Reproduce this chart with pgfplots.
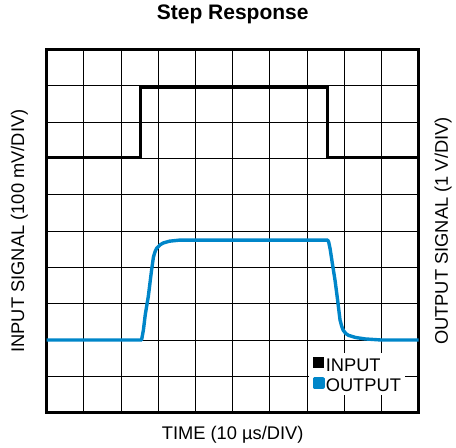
\documentclass[border=0pt]{standalone}
\usepackage{pgfplots}
\pgfplotsset{compat=1.18}
\usepackage{fontspec}
\setmainfont{Liberation Sans}
\definecolor{outblue}{RGB}{0,134,201}
\begin{document}
\begin{tikzpicture}
\begin{axis}[
  name=ax,
  scale only axis,
  width=372pt, height=363.4pt,
  xmin=0, xmax=10, ymin=0, ymax=10,
  xtick={0,...,10}, ytick={0,...,10},
  xticklabel=\empty, yticklabel=\empty,
  major tick length=0pt,
  grid=major,
  grid style={black, line width=0.9pt},
  axis line style={line width=3pt},
  clip=false,
  title={Step Response},
  title style={at={(axis description cs:0.5,1)}, anchor=base, yshift=23.3pt, font=\fontsize{21}{24}\selectfont\bfseries},
  xlabel={TIME (10 µs/DIV)},
  xlabel style={at={(axis description cs:0.5,0)}, anchor=base, yshift=-26.3pt, font=\fontsize{18.3}{21}\selectfont},
  ylabel={INPUT SIGNAL (100 mV/DIV)},
  ylabel style={at={(axis description cs:-0.061,0.5)}, anchor=base, font=\fontsize{18.3}{21}\selectfont},
  legend style={at={(axis cs:7.05,1.643)}, anchor=north west, fill=white, draw=none,
    inner xsep=3.7pt, inner ysep=3.6pt, row sep=5.6pt, column sep=1.2pt,
    font=\fontsize{18.3}{19}\selectfont,
    nodes={inner sep=0pt, text height=13.4pt, text depth=0pt}},
  legend cell align=left,
  legend image code/.code={\fill[#1] (0pt,-2pt) rectangle (8.3pt,6.3pt);},
]
\addplot[black, line width=3.2pt, line join=miter] coordinates {
(0,7.02) (2.53,7.02) (2.53,8.95) (7.54,8.95) (7.54,7.02) (10,7.02)
};
\addlegendentry{INPUT}
\addplot[outblue, line width=3.4pt, line join=round] coordinates {
(0,2.0) (2.55,2.0) (2.60,2.28) (2.65,2.7) (2.73,3.19) (2.82,3.93) (2.87,4.29)
(2.92,4.45) (2.96,4.53) (3.05,4.62) (3.13,4.67) (3.3,4.72) (3.58,4.75)
(7.55,4.75) (7.58,4.70) (7.62,4.50) (7.68,4.1) (7.75,3.65) (7.82,3.1)
(7.885,2.55) (7.93,2.38) (7.97,2.27) (8.04,2.18) (8.11,2.13) (8.3,2.07)
(8.56,2.03) (9.0,2.0) (10,2.0)
};
\addlegendentry{OUTPUT}
\node[rotate=90, anchor=base, font=\fontsize{18.3}{21}\selectfont] at (axis description cs:1.0785,0.5) {OUTPUT SIGNAL (1 V/DIV)};
\end{axis}
\path ([shift={(-46.7pt,-34.3pt)}]ax.south west) rectangle ([shift={(37.3pt,49.3pt)}]ax.north east);
\end{tikzpicture}
\end{document}
